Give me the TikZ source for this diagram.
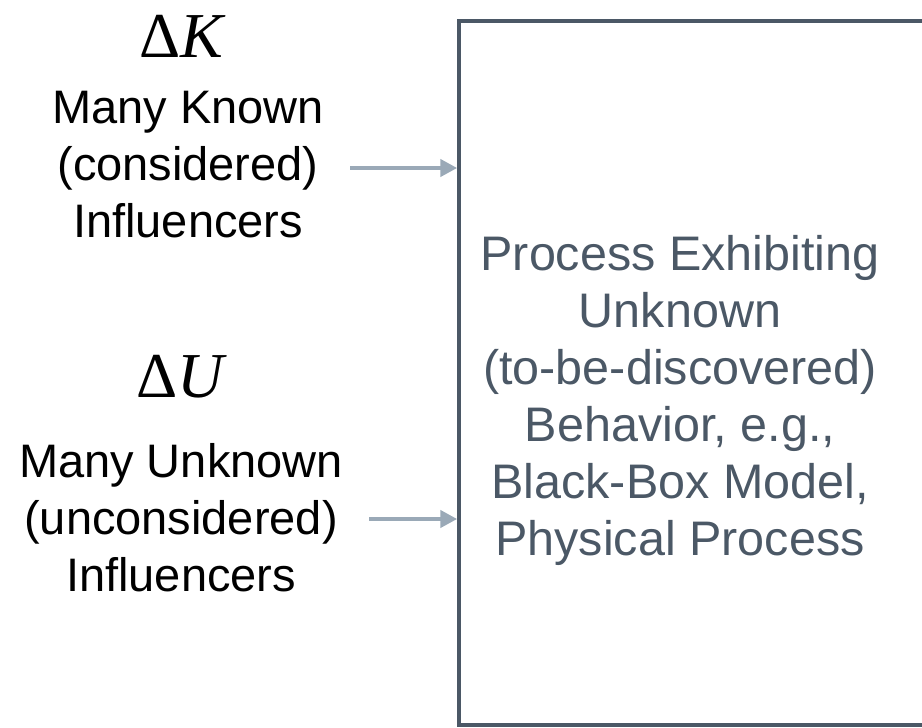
\documentclass[tikz,border=0pt]{standalone}
\usepackage{fontspec}
\setmainfont{Liberation Sans}
\newfontfamily\timesfont{Liberation Serif}
\usetikzlibrary{arrows.meta, positioning}

\definecolor{slate}{HTML}{4B5866}
\definecolor{feedgray}{HTML}{9AA9B7}

\begin{document}
\begin{tikzpicture}[
    x=1pt, y=-1pt,
    delta/.style={font=\timesfont\fontsize{64}{70}\selectfont, inner sep=0pt},
    infl/.style={align=center, font=\fontsize{47}{57}\selectfont, inner sep=2pt},
    procbox/.style={draw=slate, line width=3.5pt, minimum width=501pt, minimum height=704pt, inner sep=0pt},
    proctext/.style={align=center, text=slate, font=\fontsize{48.5}{57}\selectfont},
    feed/.style={-{Triangle[length=17pt, width=17pt]}, line width=4.5pt, draw=feedgray, shorten <=24pt}
]
\useasboundingbox (0,0) rectangle (922,728);

% the process (box runs off to the right)
\node[procbox] (box) at (709.5,373) {};
\node[proctext] (proc) at (680,400) {Process Exhibiting\\Unknown\\(to-be-discovered)\\Behavior, e.g.,\\Black-Box Model,\\Physical Process};

% known influencers
\node[delta] (dk) at (183,36) {Δ\textit{K}};
\node[infl] (known) at (188,165) {Many Known\\(considered)\\Influencers};

% unknown influencers
\node[delta] (du) at (182,377) {Δ\textit{U}};
\node[infl] (unknown) at (181,518) {Many Unknown\\(unconsidered)\\Influencers};

\draw[feed] ([yshift=-3pt]known.east) -- ([yshift=-3pt]known.east -| box.west);
\draw[feed] ([yshift=-1pt]unknown.east) -- ([yshift=-1pt]unknown.east -| box.west);

\end{tikzpicture}
\end{document}
